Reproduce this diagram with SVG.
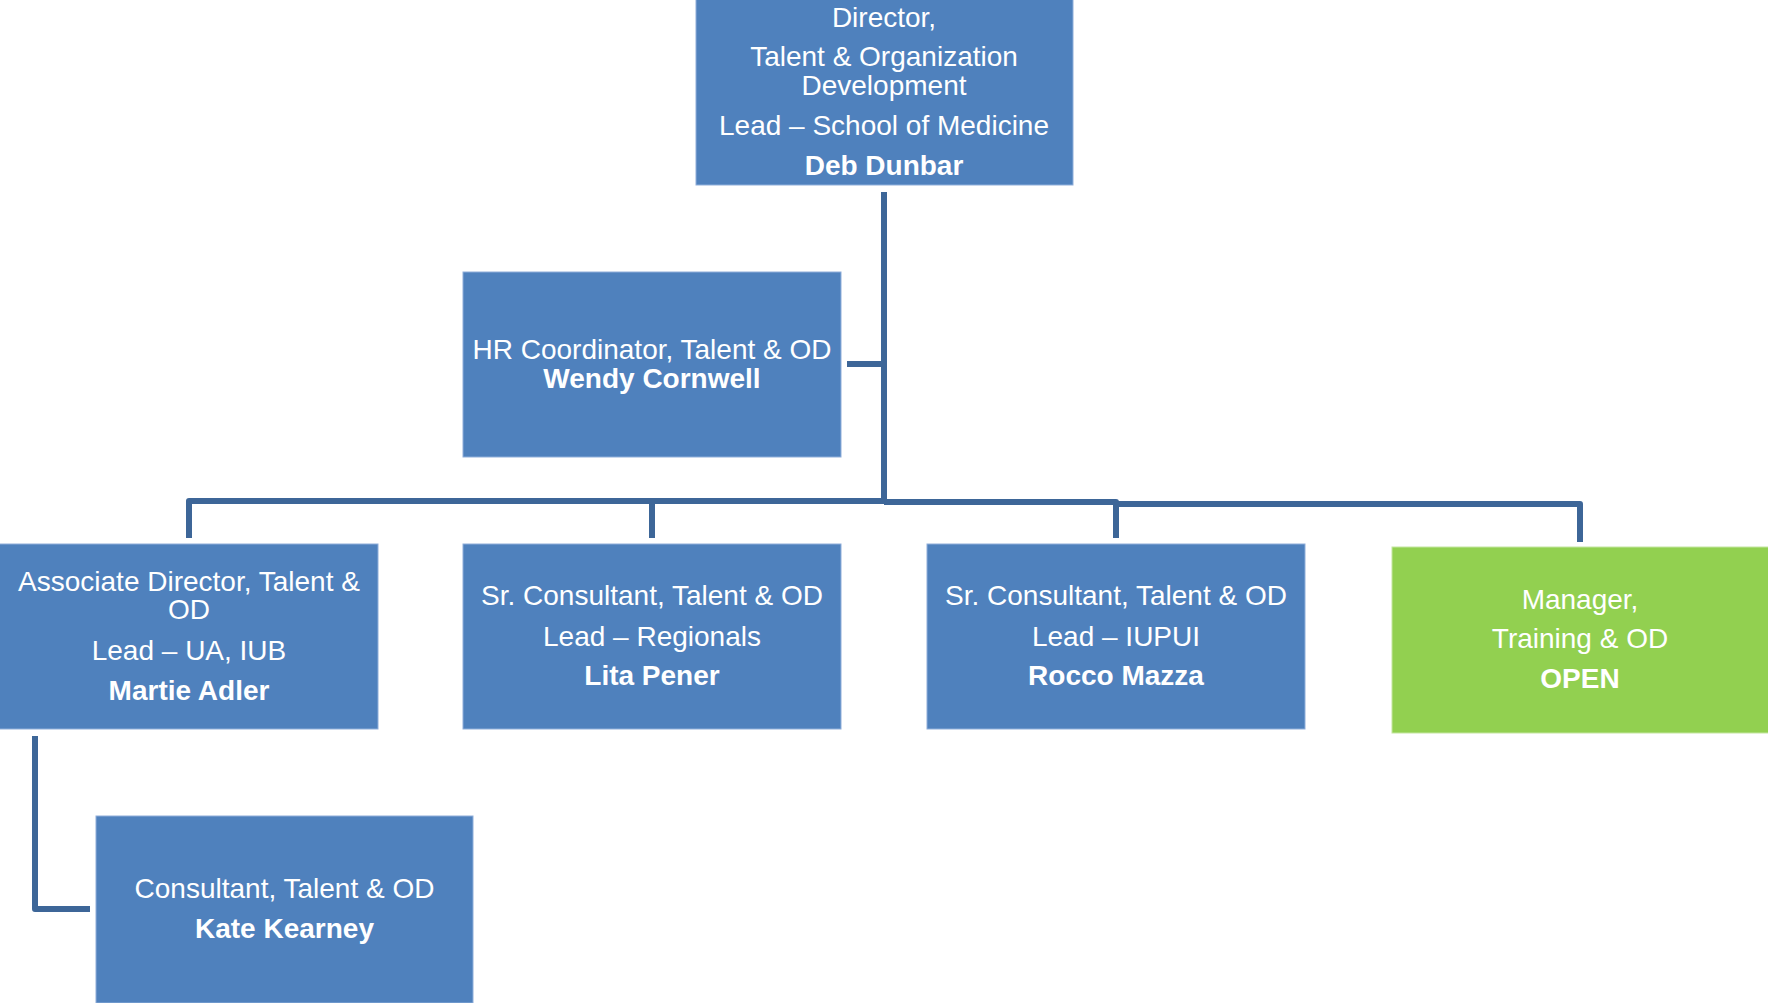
<svg xmlns="http://www.w3.org/2000/svg" width="1768" height="1003" viewBox="0 0 1768 1003">
<style>
.box{fill:#4F81BD;stroke:#8FAEDA;stroke-width:1}
.green{fill:#92D050;stroke:#C4E6A0;stroke-width:1}
.t{font-family:"Liberation Sans",Arial,sans-serif;font-size:28px;fill:#FFFFFF;text-anchor:middle}
.b{font-weight:bold}
.c{fill:none;stroke:#3D6698;stroke-width:6;stroke-linejoin:round}
</style>
<rect width="1768" height="1003" fill="#FFFFFF"/>
<g id="connectors">
<path class="c" d="M884,192 V503"/>
<path class="c" d="M884,364 H847"/>
<path class="c" d="M884,501 H189 V538"/>
<path class="c" d="M652,501 V538"/>
<path class="c" d="M884,502 H1116 V538"/>
<path class="c" d="M1116,504 H1580 V542"/>
<path class="c" d="M35,736 V909 H90"/>
</g>
<g id="node-director">
<rect class="box" x="696" y="-1" width="377" height="186"/>
<text class="t" x="884" y="27">Director,</text>
<text class="t" x="884" y="66">Talent &amp; Organization</text>
<text class="t" x="884" y="95">Development</text>
<text class="t" x="884" y="135">Lead – School of Medicine</text>
<text class="t b" x="884" y="175">Deb Dunbar</text>
</g>
<g id="node-hr">
<rect class="box" x="463" y="272" width="378" height="185"/>
<text class="t" x="652" y="359">HR Coordinator, Talent &amp; OD</text>
<text class="t b" x="652" y="388">Wendy Cornwell</text>
</g>
<g id="node-assoc">
<rect class="box" x="-1" y="544" width="379" height="185"/>
<text class="t" x="189" y="591">Associate Director, Talent &amp;</text>
<text class="t" x="189" y="619">OD</text>
<text class="t" x="189" y="660">Lead – UA, IUB</text>
<text class="t b" x="189" y="700">Martie Adler</text>
</g>
<g id="node-lita">
<rect class="box" x="463" y="544" width="378" height="185"/>
<text class="t" x="652" y="605">Sr. Consultant, Talent &amp; OD</text>
<text class="t" x="652" y="646">Lead – Regionals</text>
<text class="t b" x="652" y="685">Lita Pener</text>
</g>
<g id="node-rocco">
<rect class="box" x="927" y="544" width="378" height="185"/>
<text class="t" x="1116" y="605">Sr. Consultant, Talent &amp; OD</text>
<text class="t" x="1116" y="646">Lead – IUPUI</text>
<text class="t b" x="1116" y="685">Rocco Mazza</text>
</g>
<g id="node-open">
<rect class="green" x="1392" y="547" width="377" height="186"/>
<text class="t" x="1580" y="609">Manager,</text>
<text class="t" x="1580" y="648">Training &amp; OD</text>
<text class="t b" x="1580" y="688">OPEN</text>
</g>
<g id="node-kate">
<rect class="box" x="96" y="816" width="377" height="187"/>
<text class="t" x="284.5" y="898">Consultant, Talent &amp; OD</text>
<text class="t b" x="284.5" y="938">Kate Kearney</text>
</g>
</svg>
